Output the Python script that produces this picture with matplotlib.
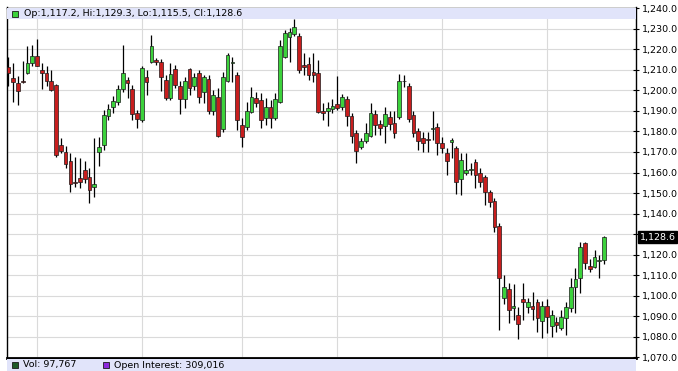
import numpy as np
import matplotlib.pyplot as plt
from matplotlib.patches import Rectangle

# =============================================================================
# Daily OHLC values (126 sessions)
# =============================================================================
opens = [1211.3, 1205.9, 1203.5, 1204.2, 1208.3, 1213.2, 1216.8, 1210.0, 1208.3, 1204.6,
         1202.7, 1173.3, 1170.1, 1165.4, 1155.3, 1157.3, 1161.0, 1157.7, 1152.9, 1170.2,
         1173.5, 1187.3, 1191.8, 1194.4, 1200.6, 1205.1, 1200.6, 1188.9, 1185.6, 1206.4,
         1213.9, 1214.8, 1213.7, 1205.1, 1196.2, 1210.3, 1201.9, 1195.7, 1210.3, 1201.9,
         1208.3, 1199.4, 1205.4, 1190.0, 1196.6, 1181.2, 1204.6, 1213.5, 1207.5, 1183.1,
         1182.0, 1189.3, 1196.1, 1195.3, 1186.4, 1192.1, 1186.4, 1194.5, 1216.4, 1225.8,
         1227.4, 1226.4, 1212.3, 1212.8, 1209.1, 1208.6, 1190.1, 1190.1, 1191.1, 1193.2,
         1191.8, 1195.7, 1187.5, 1179.1, 1172.3, 1175.2, 1177.8, 1188.5, 1183.5, 1182.4,
         1186.9, 1184.0, 1186.9, 1204.4, 1202.1, 1188.0, 1180.2, 1176.7, 1176.0, 1181.2,
         1182.1, 1174.6, 1169.7, 1174.8, 1171.8, 1156.8, 1159.7, 1161.3, 1165.0, 1159.7,
         1157.7, 1150.3, 1146.2, 1134.0, 1098.9, 1103.2, 1094.3, 1090.7, 1098.4, 1094.4,
         1095.1, 1096.8, 1087.8, 1095.2, 1085.3, 1087.4, 1084.2, 1089.1, 1093.9, 1104.1,
         1108.5, 1125.5, 1114.7, 1114.2, 1117.1, 1117.2]
highs = [1216.1, 1213.5, 1207.1, 1214.3, 1221.7, 1222.1, 1224.9, 1213.5, 1211.6, 1210.0,
         1203.2, 1176.7, 1172.7, 1169.4, 1167.5, 1167.0, 1165.4, 1162.1, 1176.7, 1177.5,
         1190.5, 1193.4, 1197.0, 1202.7, 1222.1, 1206.7, 1202.7, 1190.5, 1211.6, 1210.0,
         1227.0, 1215.6, 1215.0, 1207.5, 1213.2, 1212.4, 1204.3, 1206.7, 1210.8, 1208.3,
         1210.0, 1207.5, 1207.5, 1200.2, 1201.0, 1209.1, 1218.0, 1216.4, 1209.1, 1186.4,
         1194.5, 1201.8, 1199.3, 1198.5, 1196.1, 1195.3, 1198.5, 1224.5, 1229.4, 1230.2,
         1234.6, 1228.1, 1218.0, 1216.4, 1218.0, 1214.8, 1193.7, 1194.5, 1195.7, 1207.0,
         1198.3, 1197.3, 1188.8, 1180.7, 1176.7, 1184.0, 1193.7, 1190.5, 1185.6, 1192.1,
         1189.7, 1190.1, 1208.0, 1207.5, 1203.4, 1189.7, 1181.5, 1179.5, 1179.5, 1189.7,
         1184.0, 1177.5, 1171.8, 1176.7, 1173.0, 1169.4, 1169.4, 1164.5, 1166.5, 1162.1,
         1158.9, 1151.6, 1147.5, 1135.3, 1110.2, 1106.2, 1105.8, 1094.8, 1106.2, 1098.8,
         1102.0, 1098.3, 1097.7, 1098.5, 1093.1, 1089.9, 1093.1, 1097.2, 1108.5, 1113.4,
         1126.4, 1126.4, 1117.8, 1122.3, 1119.9, 1129.3]
lows = [1201.9, 1194.1, 1193.0, 1203.5, 1208.0, 1211.6, 1211.6, 1200.5, 1201.9, 1199.7,
        1167.5, 1169.4, 1162.1, 1150.3, 1153.2, 1152.4, 1154.8, 1145.4, 1148.3, 1163.4,
        1171.0, 1185.6, 1188.9, 1192.9, 1199.4, 1196.2, 1185.6, 1181.6, 1184.8, 1197.8,
        1213.5, 1212.4, 1199.9, 1195.4, 1195.4, 1201.0, 1188.6, 1191.3, 1197.8, 1200.2,
        1193.7, 1193.7, 1188.4, 1188.0, 1177.5, 1179.9, 1204.2, 1204.2, 1180.7, 1172.6,
        1180.7, 1188.8, 1192.1, 1181.5, 1183.2, 1181.5, 1185.6, 1193.7, 1215.6, 1214.0,
        1226.4, 1208.6, 1207.5, 1205.0, 1204.2, 1188.8, 1185.6, 1182.7, 1188.8, 1190.5,
        1190.5, 1182.4, 1174.6, 1164.5, 1171.3, 1174.6, 1177.5, 1178.3, 1178.3, 1174.6,
        1180.7, 1176.7, 1185.9, 1201.8, 1184.8, 1177.5, 1171.0, 1170.2, 1170.2, 1175.6,
        1168.6, 1169.4, 1158.9, 1167.0, 1149.6, 1149.2, 1158.9, 1158.9, 1152.4, 1153.2,
        1144.3, 1143.1, 1131.3, 1083.5, 1096.1, 1087.0, 1088.3, 1078.9, 1088.3, 1091.8,
        1088.3, 1082.6, 1079.3, 1081.8, 1080.1, 1082.6, 1083.4, 1081.0, 1092.3, 1091.5,
        1101.2, 1112.9, 1111.8, 1113.4, 1108.5, 1115.5]
closes = [1208.3, 1204.0, 1199.9, 1204.0, 1213.5, 1216.8, 1211.9, 1208.3, 1204.6, 1200.2,
          1168.6, 1170.6, 1164.2, 1154.3, 1154.8, 1155.6, 1156.8, 1151.3, 1154.5, 1172.3,
          1188.1, 1191.0, 1194.9, 1200.6, 1208.3, 1203.5, 1188.6, 1186.0, 1211.1, 1204.1,
          1221.7, 1213.7, 1206.4, 1196.5, 1207.9, 1202.7, 1195.7, 1204.3, 1201.0, 1206.4,
          1196.7, 1206.4, 1190.0, 1197.5, 1177.9, 1206.7, 1217.2, 1213.6, 1185.6, 1177.5,
          1190.1, 1196.6, 1193.7, 1185.6, 1192.1, 1186.4, 1195.6, 1221.6, 1228.1, 1228.6,
          1230.7, 1209.9, 1211.5, 1207.5, 1207.5, 1189.6, 1188.8, 1191.3, 1192.3, 1191.3,
          1196.6, 1187.5, 1177.8, 1170.7, 1175.5, 1179.4, 1188.8, 1183.2, 1181.5, 1188.5,
          1183.7, 1179.1, 1204.3, 1204.3, 1186.0, 1179.1, 1175.1, 1174.3, 1175.9, 1181.3,
          1174.3, 1171.8, 1165.8, 1175.7, 1155.6, 1166.2, 1161.3, 1161.4, 1158.9, 1155.6,
          1150.3, 1145.9, 1133.7, 1108.6, 1104.5, 1092.9, 1095.3, 1086.2, 1096.9, 1096.8,
          1093.4, 1089.1, 1095.1, 1089.6, 1090.7, 1085.8, 1089.9, 1094.4, 1104.1, 1108.0,
          1123.6, 1115.8, 1112.9, 1118.7, 1117.2, 1128.6]

# sessions where a new month starts (vertical grid lines)
month_starts = [6, 28, 49, 69, 91, 113]
price_ticks = list(range(1070, 1241, 10))
last_price = 1128.6
volume_text = "Vol: 97,767"
oi_text = "Open Interest: 309,016"

# =============================================================================
# Figure layout
# =============================================================================
W, H = 678, 371
fig = plt.figure(figsize=(W / 100, H / 100), dpi=100)
ax = fig.add_axes([7 / W, 13.5 / H, 629 / W, 350 / H])

opens = np.array(opens)
closes = np.array(closes)
x = np.arange(len(opens))
up = closes >= opens
body_colors = np.where(up, '#3cd23c', '#c81e1e')
body_bottom = np.minimum(opens, closes)
body_height = np.maximum(np.abs(closes - opens), 0.35)

# grid
for p in price_ticks:
    ax.axhline(p, color='#dadada', lw=0.8, zorder=0)
for m in month_starts:
    ax.axvline(m, color='#dadada', lw=0.8, zorder=0)

# candles
ax.vlines(x, lows, highs, color='black', lw=0.9, zorder=2)
ax.bar(x, body_height, bottom=body_bottom, width=0.78, color=body_colors,
       edgecolor='#1a1a1a', linewidth=0.5, zorder=3)

ax.set_xlim(-0.3, 131.7)
ax.set_ylim(1070, 1240.3)
ax.set_xticks([])

ax.yaxis.tick_right()
ax.set_yticks(price_ticks)
ax.set_yticklabels(['' if p == 1130 else f'{p:,.1f}' for p in price_ticks],
                   fontsize=6.8, family='DejaVu Sans')
ax.tick_params(axis='y', direction='inout', length=5, width=0.8, pad=2, colors='black')

for side in ['left', 'top', 'right']:
    ax.spines[side].set_linewidth(1.0)
ax.spines['bottom'].set_linewidth(2.0)

# last price marker
ax.text(1.006, last_price, f'{last_price:,.1f}', transform=ax.get_yaxis_transform(),
        fontsize=6.8, color='white', va='center', ha='left',
        bbox=dict(boxstyle='square,pad=0.15', fc='black', ec='black'))

# top info band
band_h = 11.5 / 350
ax.add_patch(Rectangle((0, 1 - band_h), 1, band_h, transform=ax.transAxes,
                       fc='#e1e4fa', ec='none', zorder=4))
ax.add_patch(Rectangle((5 / 629, (357.5 - 17) / 350), 6 / 629, 6 / 350,
                       transform=ax.transAxes, fc='#3cd23c', ec='#1a1a1a', lw=0.6, zorder=5))
ax.text(17 / 629, (357.5 - 13.5) / 350,
        f'Op:{opens[-1]:,.1f}, Hi:{highs[-1]:,.1f}, Lo:{lows[-1]:,.1f}, Cl:{closes[-1]:,.1f}',
        transform=ax.transAxes, fontsize=6.8, va='center', ha='left', zorder=6)

# bottom band (volume pane header)
fig.patches.append(Rectangle((7 / W, 0), 629 / W, 12.5 / H, transform=fig.transFigure,
                             fc='#e1e4fa', ec='none', zorder=0))
fig.patches.append(Rectangle((12 / W, 3 / H), 6 / W, 6 / H, transform=fig.transFigure,
                             fc='#1e5a28', ec='#1a1a1a', lw=0.6))
fig.text(23 / W, 6 / H, volume_text, fontsize=6.8, va='center', ha='left')
fig.patches.append(Rectangle((103 / W, 3 / H), 6 / W, 6 / H, transform=fig.transFigure,
                             fc='#8c28dc', ec='#1a1a1a', lw=0.6))
fig.text(114 / W, 6 / H, oi_text, fontsize=6.8, va='center', ha='left')

fig.savefig('out.png', dpi=100)
